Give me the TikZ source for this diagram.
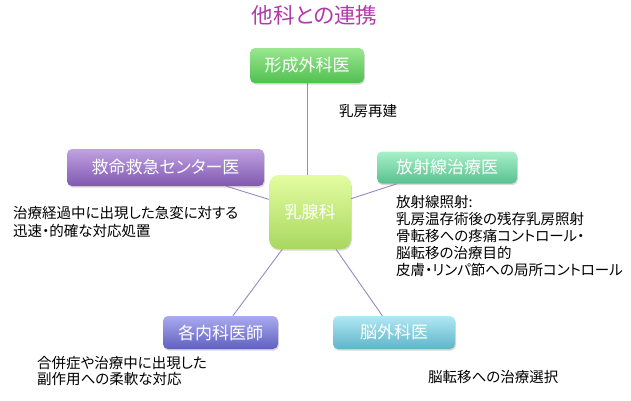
\documentclass[tikz,border=0pt]{standalone}
\usepackage{fontspec}
\setmainfont{Noto Sans CJK JP}[RawFeature=+palt]
\usetikzlibrary{shadows,backgrounds}
\definecolor{titlec}{HTML}{B03AA8}
\definecolor{linkc}{HTML}{9A88C0}
\begin{document}
\begin{tikzpicture}[x=1bp,y=-1bp,
  box/.style={rounded corners=5bp, inner sep=0pt, text=white,
    font=\fontsize{17bp}{18bp}\selectfont,
    drop shadow={shadow xshift=0.8bp, shadow yshift=-1.6bp, opacity=0.3}},
  body/.style={inner sep=0pt, anchor=west, align=left, text=black},
  link/.style={draw=linkc, line width=0.9bp}]
\useasboundingbox (0,0) rectangle (631,400);
\node[text=titlec, inner sep=0pt, font=\fontsize{21.5bp}{22bp}\selectfont] (title) at (314.5,15) {他科との連携};
\node[box, top color={rgb,255:red,154;green,230;blue,143}, bottom color={rgb,255:red,80;green,192;blue,80},
  minimum width=114bp, minimum height=35bp] (keisei) at (307,65.5) {形成外科医};
\node[box, top color={rgb,255:red,192;green,162;blue,226}, bottom color={rgb,255:red,128;green,88;blue,176},
  minimum width=197bp, minimum height=37bp] (kyumei) at (165.5,167.5) {救命救急センター医};
\node[box, top color={rgb,255:red,168;green,240;blue,200}, bottom color={rgb,255:red,88;green,192;blue,144},
  minimum width=140bp, minimum height=32bp] (hosha) at (447,167.5) {放射線治療医};
\node[box, rounded corners=10bp, top color={rgb,255:red,228;green,252;blue,160}, bottom color={rgb,255:red,168;green,216;blue,96},
  minimum width=82bp, minimum height=74bp] (center) at (310,212) {乳腺科};
\node[box, top color={rgb,255:red,170;green,170;blue,240}, bottom color={rgb,255:red,96;green,96;blue,192},
  minimum width=115bp, minimum height=33bp] (naika) at (220.5,332.5) {各内科医師};
\node[box, top color={rgb,255:red,176;green,232;blue,244}, bottom color={rgb,255:red,96;green,180;blue,200},
  minimum width=122bp, minimum height=33bp] (nougeka) at (394,332.5) {脳外科医};
\begin{scope}[on background layer]
\draw[link] (keisei.south) -- (keisei.south |- center.north);
\draw[link] (center) -- (kyumei);
\draw[link] (center) -- (hosha);
\draw[link] (center) -- (naika);
\draw[link] (center) -- (nougeka);
\end{scope}
\node[body, font=\fontsize{14.5bp}{17bp}\selectfont] (t1) at (339,111) {乳房再建};
\node[body, font=\fontsize{14.5bp}{17bp}\selectfont] (t2) at (396,236) {放射線照射:\\乳房温存術後の残存乳房照射\\骨転移への疼痛コントロール・\\脳転移の治療目的\\皮膚・リンパ節への局所コントロール};
\node[body, font=\fontsize{14.5bp}{18bp}\selectfont] (t3) at (13,221.5) {治療経過中に出現した急変に対する\\迅速・的確な対応処置};
\node[body, font=\fontsize{14.5bp}{15.5bp}\selectfont] (t4) at (37,371) {合併症や治療中に出現した\\副作用への柔軟な対応};
\node[body, font=\fontsize{14.5bp}{17bp}\selectfont] (t5) at (428,377) {脳転移への治療選択};
\end{tikzpicture}
\end{document}
